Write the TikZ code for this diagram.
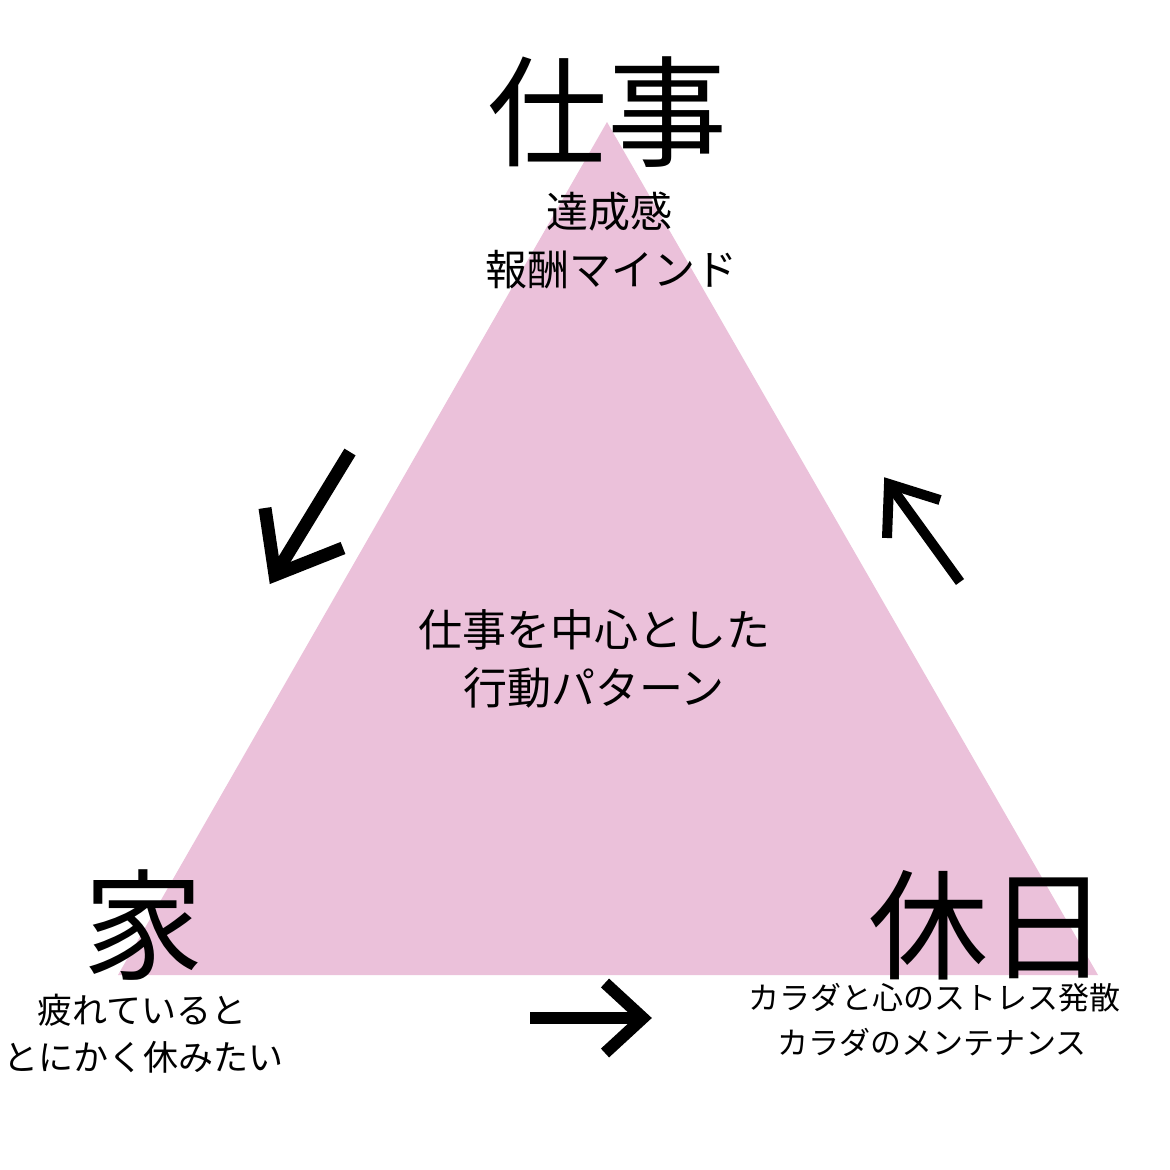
\documentclass[tikz,border=0pt]{standalone}
\usepackage{fontspec}
\newfontfamily\jp{Noto Sans CJK JP}
\definecolor{tripink}{HTML}{EBC1DA}
\begin{document}
\begin{tikzpicture}[x=1pt,y=-1pt,
  tri/.style={fill=tripink},
  big/.style={inner sep=0pt,font=\jp\fontsize{120}{120}\selectfont},
  sub/.style={inner sep=0pt,font=\jp\fontsize{42}{42}\selectfont},
  mid/.style={inner sep=0pt,font=\jp\fontsize{44}{44}\selectfont},
  lft/.style={inner sep=0pt,font=\jp\fontsize{35}{35}\selectfont},
  rgt/.style={inner sep=0pt,font=\jp\fontsize{31}{31}\selectfont},
  arr/.style={draw=black,line join=miter,miter limit=10,line cap=butt}]
\useasboundingbox (0,0) rectangle (1170,1170);
\fill[white] (0,0) rectangle (1170,1170);
\coordinate (A) at (607,122);
\coordinate (B) at (118,975);
\coordinate (C) at (1098,975);
\fill[tri] (A) -- (B) -- (C) -- cycle;
% labels
\node[big] (work) at (607,112) {仕事};
\node[sub] (work1) at (609,212) {達成感};
\node[sub] (work2) at (611,270) {報酬マインド};
\node[mid] (c1) at (594,630) {仕事を中心とした};
\node[mid] (c2) at (594,688) {行動パターン};
\node[big] (home) at (143,925) {家};
\node[lft] (home1) at (142,1010) {疲れていると};
\node[lft] (home2) at (144,1057) {とにかく休みたい};
\node[big] (off) at (988,925) {休日};
\node[rgt] (off1) at (934,998) {カラダと心のストレス発散};
\node[rgt] (off2) at (932,1042) {カラダのメンテナンス};
% arrows
\coordinate (dlS) at (350,452); \coordinate (dlT) at (275,575);
\coordinate (dlH1) at (265,508); \coordinate (dlH2) at (343,548);
\draw[arr,line width=13pt] (dlS) -- (dlT);
\draw[arr,line width=13pt] (dlH1) -- (dlT) -- (dlH2);
\coordinate (ulS) at (960,582); \coordinate (ulT) at (889,484);
\coordinate (ulH1) at (887,538); \coordinate (ulH2) at (940,500);
\draw[arr,line width=10pt] (ulS) -- (ulT);
\draw[arr,line width=10pt] (ulH1) -- (ulT) -- (ulH2);
\coordinate (rS) at (530,1018); \coordinate (rT) at (643,1018);
\coordinate (rH1) at (605,983); \coordinate (rH2) at (605,1053);
\draw[arr,line width=12pt] (rS) -- (rT);
\draw[arr,line width=12pt] (rH1) -- (rT) -- (rH2);
\end{tikzpicture}
\end{document}
